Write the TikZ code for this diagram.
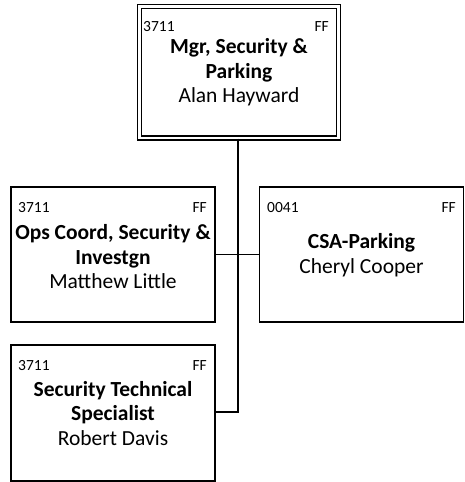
\documentclass[tikz,border=0pt]{standalone}
\usepackage{fontspec}
\setmainfont{Carlito}
\begin{document}
\begin{tikzpicture}[x=1pt,y=-1pt,
  box/.style={draw, line width=1.3pt, minimum width=204pt, minimum height=135pt, inner sep=0pt},
  dbox/.style={draw, double, line width=1.2pt, double distance=2.8pt, minimum width=199pt, minimum height=131.5pt, inner sep=0pt},
  codel/.style={font=\fontsize{15.5}{18}\selectfont, anchor=west, inner sep=0pt},
  coder/.style={font=\fontsize{15.5}{18}\selectfont, anchor=east, inner sep=0pt},
  ttl/.style={align=center, inner sep=0pt, font=\fontsize{21.5}{24.5}\selectfont},
  conn/.style={line width=1.3pt}]
\useasboundingbox (0,0) rectangle (465,482);
% boxes
\node[dbox] (top) at (239,72.25) {};
\node[box] (ops) at (113,254.5) {};
\node[box] (csa) at (361.5,254.5) {};
\node[box, minimum height=136pt] (sts) at (113,413) {};
% codes
\node[codel] (topc) at (143,27) {3711};
\node[coder] (topf) at (329,27) {FF};
\node[codel] (opsc) at (18,208) {3711};
\node[coder] (opsf) at (207,208) {FF};
\node[codel] (csac) at (267,208) {0041};
\node[coder] (csaf) at (456,208) {FF};
\node[codel] (stsc) at (18,366) {3711};
\node[coder] (stsf) at (207,366) {FF};
% titles
\node[ttl] (topt) at (239,72.5) {\textbf{Mgr, Security \&}\\\textbf{Parking}\\Alan Hayward};
\node[ttl] (opst) at (113,257) {\textbf{Ops Coord, Security \&}\\\textbf{Investgn}\\Matthew Little};
\node[ttl] (csat) at (361.5,255) {\textbf{CSA-Parking}\\Cheryl Cooper};
\node[ttl] (stst) at (113,413.5) {\textbf{Security Technical}\\\textbf{Specialist}\\Robert Davis};
% connectors
\coordinate (j) at (238,412);
\draw[conn] (238,0 |- top.south) -- (j) -- (sts.east |- j);
\draw[conn] (ops.east) -- (csa.west);
\end{tikzpicture}
\end{document}
